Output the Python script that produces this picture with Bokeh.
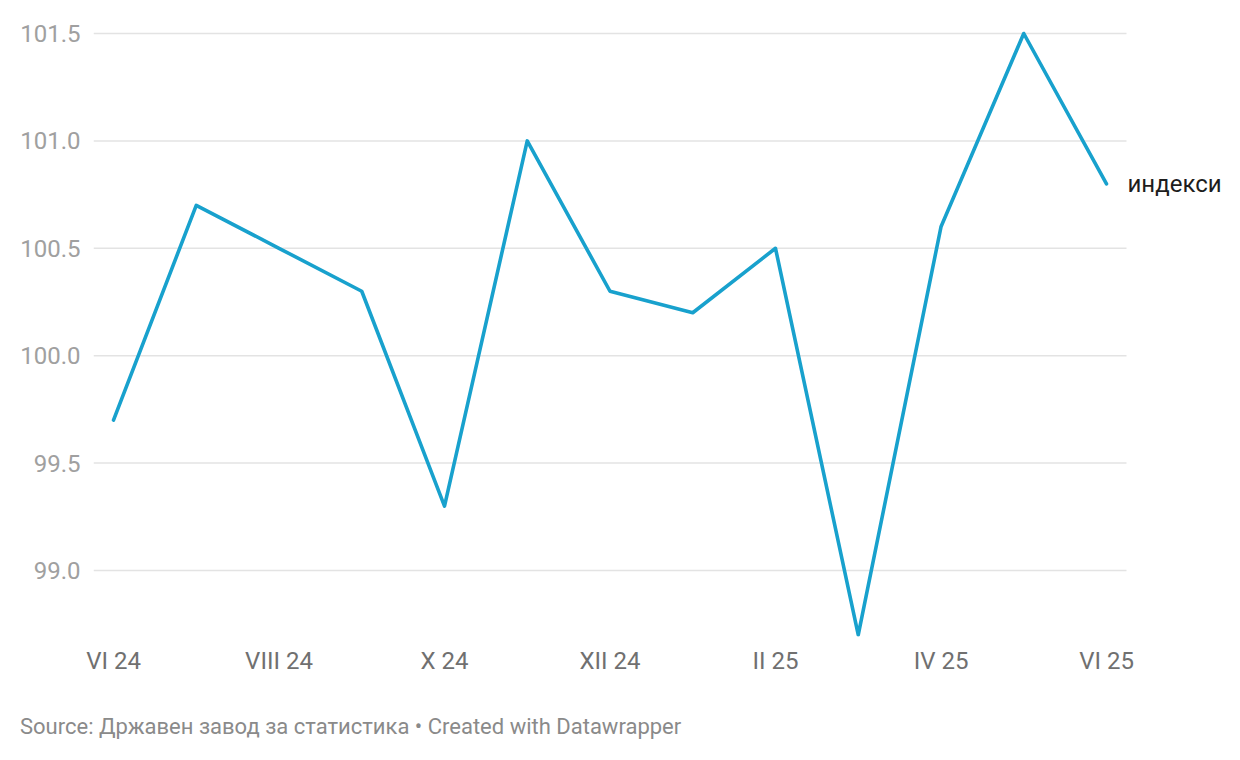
from bokeh.plotting import figure
from bokeh.models import Range1d, FixedTicker, Div
from bokeh.layouts import column
from bokeh.core.properties import value
from bokeh.embed import file_html
from bokeh.resources import INLINE

months = ["VI 24", "VII 24", "VIII 24", "IX 24", "X 24", "XI 24", "XII 24",
          "I 25", "II 25", "III 25", "IV 25", "V 25", "VI 25"]
index_values = [99.7, 100.7, 100.5, 100.3, 99.3, 101.0, 100.3, 100.2, 100.5, 98.7, 100.6, 101.5, 100.8]
y_ticks = [99.0, 99.5, 100.0, 100.5, 101.0, 101.5]
series_name = "индекси"
source_text = "Source: Државен завод за статистика • Created with Datawrapper"

xs = list(range(len(months)))
pad = 0.2417
grid_x0 = -pad
grid_x1 = len(months) - 1 + pad

p = figure(width=1224, height=680, output_backend="svg", toolbar_location=None,
           x_range=Range1d(-pad, len(months) - 1 + 1.426),
           y_range=Range1d(98.6927, 101.5605),
           min_border_left=93, min_border_right=0, min_border_top=20, min_border_bottom=44)
p.outline_line_color = None
p.background_fill_color = "white"
p.border_fill_color = "white"

# horizontal gridlines limited to the data area
p.segment(x0=[grid_x0] * len(y_ticks), x1=[grid_x1] * len(y_ticks), y0=y_ticks, y1=y_ticks,
          line_color="#e3e3e3", line_width=1.5)

p.line(xs, index_values, line_color="#18a1cd", line_width=3.6, line_join="round", line_cap="round")

p.text(x=[xs[-1]], y=[index_values[-1]], text=[series_name], x_offset=21,
       text_baseline="middle", text_align="left", text_font=value("Roboto"),
       text_font_size="24px", text_color="#1d1d1d")

# axes
p.xaxis.ticker = FixedTicker(ticks=xs[::2])
p.xaxis.major_label_overrides = {i: months[i] for i in xs}
p.xaxis.axis_line_color = None
p.xaxis.major_tick_line_color = None
p.xaxis.minor_tick_line_color = None
p.xaxis.major_label_text_font = "Roboto"
p.xaxis.major_label_text_font_size = "24px"
p.xaxis.major_label_text_color = "#707070"
p.xaxis.major_label_standoff = 4

p.yaxis.ticker = FixedTicker(ticks=y_ticks)
p.yaxis.major_label_overrides = {v: f"{v:.1f}" for v in y_ticks}
p.yaxis.axis_line_color = None
p.yaxis.major_tick_line_color = None
p.yaxis.minor_tick_line_color = None
p.yaxis.major_tick_out = 0
p.yaxis.major_tick_in = 0
p.yaxis.major_label_text_font = "Roboto"
p.yaxis.major_label_text_font_size = "24px"
p.yaxis.major_label_text_color = "#a0a0a0"
p.yaxis.major_label_standoff = 13

p.xgrid.grid_line_color = None
p.ygrid.grid_line_color = None

source = Div(text=source_text, width=900, margin=(34, 0, 0, 20),
             styles={"font-family": "Roboto", "font-size": "22px", "color": "#8a8a8a",
                     "line-height": "26px", "white-space": "nowrap"})

layout = column(p, source, spacing=0)

open("out.html", "w").write(file_html(layout, INLINE))
